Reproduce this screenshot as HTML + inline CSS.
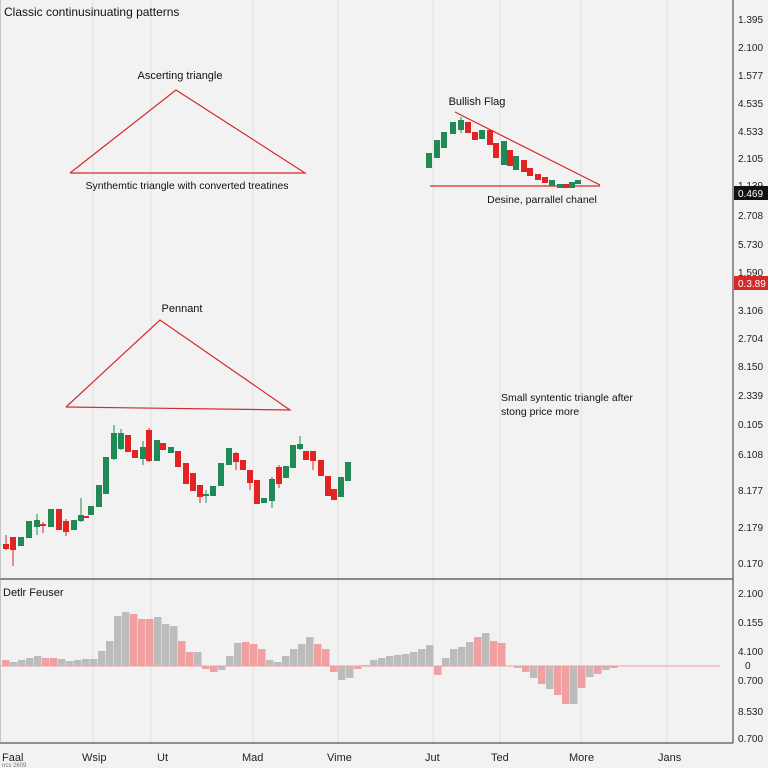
<!DOCTYPE html>
<html><head><meta charset="utf-8"><style>
body{margin:0;background:#f2f2f2;}
svg{display:block;font-family:"Liberation Sans",sans-serif;}
.r{fill:#f0a0a0}.g{fill:#bcbcbc}
.cr{fill:#e02424}.cg{fill:#1f8a55}
.wr{stroke:#e02424;stroke-width:1}.wg{stroke:#1f8a55;stroke-width:1}
</style></head><body>
<svg width="768" height="768" viewBox="0 0 768 768" xmlns="http://www.w3.org/2000/svg">
<rect width="768" height="768" fill="#f2f2f2"/>
<g stroke="#e0e0e0" stroke-width="1">
<line x1="93" y1="0" x2="93" y2="743"/><line x1="151" y1="0" x2="151" y2="743"/>
<line x1="253" y1="0" x2="253" y2="743"/><line x1="338" y1="0" x2="338" y2="743"/>
<line x1="433" y1="0" x2="433" y2="743"/><line x1="500" y1="0" x2="500" y2="743"/>
<line x1="581" y1="0" x2="581" y2="743"/><line x1="667" y1="0" x2="667" y2="743"/>
</g>
<line x1="0" y1="579" x2="733" y2="579" stroke="#666" stroke-width="1.5"/>
<line x1="0" y1="743" x2="733" y2="743" stroke="#555" stroke-width="1.2"/>
<line x1="733" y1="0" x2="733" y2="743" stroke="#555" stroke-width="1.2"/>
<line x1="0" y1="0" x2="0" y2="743" stroke="#999" stroke-width="1"/>
<text x="4" y="16" font-size="12" fill="#111">Classic continusinuating patterns</text>
<text x="3" y="596" font-size="11" fill="#111">Detlr Feuser</text>
<g fill="none" stroke="#d42a2a" stroke-width="1.2">
<polyline points="70,173 176,90 305,173 70,173"/>
<polyline points="66,407 160,320 290,410 66,407"/>
<line x1="455" y1="112" x2="600" y2="185"/>
<line x1="430" y1="186" x2="600" y2="186"/>
</g>
<g font-size="11" fill="#111">
<text x="180" y="79" text-anchor="middle">Ascerting triangle</text>
<text x="187" y="189" text-anchor="middle" font-size="10.5">Synthemtic triangle with converted treatines</text>
<text x="182" y="312" text-anchor="middle">Pennant</text>
<text x="477" y="105" text-anchor="middle">Bullish Flag</text>
<text x="542" y="203" text-anchor="middle" font-size="10.5">Desine, parrallel chanel</text>
<text x="501" y="401" font-size="10.5">Small syntentic triangle after</text>
<text x="501" y="415" font-size="10.5">stong price more</text>
</g>
<!-- wicks -->
<line class="wr" x1="6" x2="6" y1="535" y2="550"/>
<line class="wr" x1="13" x2="13" y1="537" y2="566"/>
<line class="wg" x1="37" x2="37" y1="514" y2="535"/>
<line class="wr" x1="43" x2="43" y1="522" y2="533"/>
<line class="wr" x1="66" x2="66" y1="519" y2="536"/>
<line class="wg" x1="81" x2="81" y1="498" y2="522"/>
<line class="wg" x1="114" x2="114" y1="425" y2="460"/>
<line class="wg" x1="121" x2="121" y1="429" y2="450"/>
<line class="wg" x1="143" x2="143" y1="441" y2="465"/>
<line class="wr" x1="149" x2="149" y1="428" y2="462"/>
<line class="wr" x1="200" x2="200" y1="485" y2="503"/>
<line class="wg" x1="206" x2="206" y1="490" y2="503"/>
<line class="wr" x1="236" x2="236" y1="452" y2="470"/>
<line class="wr" x1="250" x2="250" y1="470" y2="490"/>
<line class="wg" x1="272" x2="272" y1="477" y2="508"/>
<line class="wr" x1="279" x2="279" y1="465" y2="488"/>
<line class="wg" x1="300" x2="300" y1="436" y2="450"/>
<line class="wr" x1="313" x2="313" y1="451" y2="470"/>
<line class="wg" x1="461" x2="461" y1="117" y2="133"/>
<!-- bodies -->
<rect class="cr" x="3" y="544" width="6" height="5"/>
<rect class="cr" x="10" y="537" width="6" height="13"/>
<rect class="cg" x="18" y="537" width="6" height="9"/>
<rect class="cg" x="26" y="521" width="6" height="17"/>
<rect class="cg" x="34" y="520" width="6" height="7"/>
<rect class="cr" x="40" y="524" width="6" height="2"/>
<rect class="cg" x="48" y="509" width="6" height="18"/>
<rect class="cr" x="56" y="509" width="6" height="21"/>
<rect class="cr" x="63" y="521" width="6" height="11"/>
<rect class="cg" x="71" y="520" width="6" height="10"/>
<rect class="cg" x="78" y="515" width="6" height="6"/>
<rect class="cr" x="83" y="516" width="6" height="2"/>
<rect class="cg" x="88" y="506" width="6" height="9"/>
<rect class="cg" x="96" y="485" width="6" height="22"/>
<rect class="cg" x="103" y="457" width="6" height="37"/>
<rect class="cg" x="111" y="433" width="6" height="26"/>
<rect class="cg" x="118" y="433" width="6" height="16"/>
<rect class="cr" x="125" y="435" width="6" height="17"/>
<rect class="cr" x="132" y="450" width="6" height="8"/>
<rect class="cg" x="140" y="447" width="6" height="12"/>
<rect class="cr" x="146" y="430" width="6" height="31"/>
<rect class="cg" x="154" y="440" width="6" height="21"/>
<rect class="cr" x="160" y="443" width="6" height="7"/>
<rect class="cg" x="168" y="447" width="6" height="6"/>
<rect class="cr" x="175" y="451" width="6" height="16"/>
<rect class="cr" x="183" y="463" width="6" height="21"/>
<rect class="cr" x="190" y="473" width="6" height="18"/>
<rect class="cr" x="197" y="485" width="6" height="12"/>
<rect class="cg" x="203" y="494" width="6" height="2"/>
<rect class="cg" x="210" y="486" width="6" height="10"/>
<rect class="cg" x="218" y="463" width="6" height="23"/>
<rect class="cg" x="226" y="448" width="6" height="17"/>
<rect class="cr" x="233" y="453" width="6" height="9"/>
<rect class="cr" x="240" y="460" width="6" height="10"/>
<rect class="cr" x="247" y="470" width="6" height="13"/>
<rect class="cr" x="254" y="480" width="6" height="24"/>
<rect class="cg" x="261" y="498" width="6" height="5"/>
<rect class="cg" x="269" y="479" width="6" height="22"/>
<rect class="cr" x="276" y="467" width="6" height="17"/>
<rect class="cg" x="283" y="466" width="6" height="12"/>
<rect class="cg" x="290" y="445" width="6" height="23"/>
<rect class="cg" x="297" y="444" width="6" height="5"/>
<rect class="cr" x="303" y="451" width="6" height="9"/>
<rect class="cr" x="310" y="451" width="6" height="10"/>
<rect class="cr" x="318" y="460" width="6" height="16"/>
<rect class="cr" x="325" y="476" width="6" height="20"/>
<rect class="cr" x="331" y="489" width="6" height="11"/>
<rect class="cg" x="338" y="477" width="6" height="20"/>
<rect class="cg" x="345" y="462" width="6" height="19"/>
<rect class="cg" x="426" y="153" width="6" height="15"/>
<rect class="cg" x="434" y="140" width="6" height="18"/>
<rect class="cg" x="441" y="132" width="6" height="16"/>
<rect class="cg" x="450" y="122" width="6" height="12"/>
<rect class="cg" x="458" y="120" width="6" height="10"/>
<rect class="cr" x="465" y="122" width="6" height="11"/>
<rect class="cr" x="472" y="132" width="6" height="8"/>
<rect class="cg" x="479" y="130" width="6" height="9"/>
<rect class="cr" x="487" y="130" width="6" height="15"/>
<rect class="cr" x="493" y="143" width="6" height="15"/>
<rect class="cg" x="501" y="141" width="6" height="24"/>
<rect class="cr" x="507" y="150" width="6" height="16"/>
<rect class="cg" x="513" y="156" width="6" height="14"/>
<rect class="cr" x="521" y="160" width="6" height="12"/>
<rect class="cr" x="527" y="168" width="6" height="8"/>
<rect class="cr" x="535" y="174" width="6" height="6"/>
<rect class="cr" x="542" y="177" width="6" height="6"/>
<rect class="cg" x="549" y="180" width="6" height="6"/>
<rect class="cg" x="557" y="184" width="6" height="4"/>
<rect class="cr" x="563" y="184" width="6" height="4"/>
<rect class="cg" x="569" y="182" width="6" height="6"/>
<rect class="cg" x="575" y="180" width="6" height="4"/>
<!-- histogram -->
<rect class="r" x="2" y="660" width="7.5" height="6"/>
<rect class="g" x="10" y="662" width="7.5" height="4"/>
<rect class="g" x="18" y="660" width="7.5" height="6"/>
<rect class="g" x="26" y="658" width="7.5" height="8"/>
<rect class="g" x="34" y="656" width="7.5" height="10"/>
<rect class="r" x="42" y="658" width="7.5" height="8"/>
<rect class="r" x="50" y="658" width="7.5" height="8"/>
<rect class="g" x="58" y="659" width="7.5" height="7"/>
<rect class="g" x="66" y="661" width="7.5" height="5"/>
<rect class="g" x="74" y="660" width="7.5" height="6"/>
<rect class="g" x="82" y="659" width="7.5" height="7"/>
<rect class="g" x="90" y="659" width="7.5" height="7"/>
<rect class="g" x="98" y="651" width="7.5" height="15"/>
<rect class="g" x="106" y="641" width="7.5" height="25"/>
<rect class="g" x="114" y="616" width="7.5" height="50"/>
<rect class="g" x="122" y="612" width="7.5" height="54"/>
<rect class="r" x="130" y="614" width="7.5" height="52"/>
<rect class="r" x="138" y="619" width="7.5" height="47"/>
<rect class="r" x="146" y="619" width="7.5" height="47"/>
<rect class="g" x="154" y="617" width="7.5" height="49"/>
<rect class="g" x="162" y="624" width="7.5" height="42"/>
<rect class="g" x="170" y="626" width="7.5" height="40"/>
<rect class="r" x="178" y="641" width="7.5" height="25"/>
<rect class="r" x="186" y="652" width="7.5" height="14"/>
<rect class="g" x="194" y="652" width="7.5" height="14"/>
<rect class="r" x="202" y="666" width="7.5" height="3"/>
<rect class="r" x="210" y="666" width="7.5" height="6"/>
<rect class="g" x="218" y="666" width="7.5" height="4"/>
<rect class="g" x="226" y="656" width="7.5" height="10"/>
<rect class="g" x="234" y="643" width="7.5" height="23"/>
<rect class="r" x="242" y="642" width="7.5" height="24"/>
<rect class="r" x="250" y="644" width="7.5" height="22"/>
<rect class="r" x="258" y="649" width="7.5" height="17"/>
<rect class="g" x="266" y="660" width="7.5" height="6"/>
<rect class="g" x="274" y="662" width="7.5" height="4"/>
<rect class="g" x="282" y="656" width="7.5" height="10"/>
<rect class="g" x="290" y="649" width="7.5" height="17"/>
<rect class="g" x="298" y="644" width="7.5" height="22"/>
<rect class="g" x="306" y="637" width="7.5" height="29"/>
<rect class="r" x="314" y="644" width="7.5" height="22"/>
<rect class="r" x="322" y="649" width="7.5" height="17"/>
<rect class="r" x="330" y="666" width="7.5" height="6"/>
<rect class="g" x="338" y="666" width="7.5" height="14"/>
<rect class="g" x="346" y="666" width="7.5" height="12"/>
<rect class="r" x="354" y="666" width="7.5" height="3"/>
<rect class="g" x="362" y="665" width="7.5" height="1"/>
<rect class="g" x="370" y="660" width="7.5" height="6"/>
<rect class="g" x="378" y="658" width="7.5" height="8"/>
<rect class="g" x="386" y="656" width="7.5" height="10"/>
<rect class="g" x="394" y="655" width="7.5" height="11"/>
<rect class="g" x="402" y="654" width="7.5" height="12"/>
<rect class="g" x="410" y="652" width="7.5" height="14"/>
<rect class="g" x="418" y="649" width="7.5" height="17"/>
<rect class="g" x="426" y="645" width="7.5" height="21"/>
<rect class="r" x="434" y="666" width="7.5" height="9"/>
<rect class="g" x="442" y="658" width="7.5" height="8"/>
<rect class="g" x="450" y="649" width="7.5" height="17"/>
<rect class="g" x="458" y="647" width="7.5" height="19"/>
<rect class="g" x="466" y="642" width="7.5" height="24"/>
<rect class="r" x="474" y="637" width="7.5" height="29"/>
<rect class="g" x="482" y="633" width="7.5" height="33"/>
<rect class="r" x="490" y="641" width="7.5" height="25"/>
<rect class="r" x="498" y="643" width="7.5" height="23"/>
<rect class="g" x="514" y="666" width="7.5" height="2"/>
<rect class="r" x="522" y="666" width="7.5" height="6"/>
<rect class="g" x="530" y="666" width="7.5" height="12"/>
<rect class="r" x="538" y="666" width="7.5" height="18"/>
<rect class="g" x="546" y="666" width="7.5" height="23"/>
<rect class="r" x="554" y="666" width="7.5" height="29"/>
<rect class="r" x="562" y="666" width="7.5" height="38"/>
<rect class="g" x="570" y="666" width="7.5" height="38"/>
<rect class="r" x="578" y="666" width="7.5" height="22"/>
<rect class="g" x="586" y="666" width="7.5" height="11"/>
<rect class="r" x="594" y="666" width="7.5" height="8"/>
<rect class="g" x="602" y="666" width="7.5" height="4"/>
<rect class="r" x="610" y="666" width="7.5" height="2"/>
<line x1="0" y1="666" x2="720" y2="666" stroke="#f0a0a0" stroke-width="1"/>
<g font-size="10" fill="#222">
<text x="738" y="23">1.395</text><text x="738" y="51">2.100</text><text x="738" y="79">1.577</text>
<text x="738" y="107">4.535</text><text x="738" y="135">4.533</text><text x="738" y="162">2.105</text>
<text x="738" y="189">1.139</text>
<text x="738" y="219">2.708</text><text x="738" y="248">5.730</text><text x="738" y="276">1.590</text>
<text x="738" y="314">3.106</text><text x="738" y="342">2.704</text><text x="738" y="370">8.150</text>
<text x="738" y="399">2.339</text><text x="738" y="428">0.105</text><text x="738" y="458">6.108</text>
<text x="738" y="494">8.177</text><text x="738" y="531">2.179</text><text x="738" y="567">0.170</text>
<text x="738" y="597">2.100</text><text x="738" y="626">0.155</text><text x="738" y="655">4.100</text>
<text x="745" y="669">0</text><text x="738" y="684">0.700</text><text x="738" y="715">8.530</text>
<text x="738" y="742">0.700</text>
</g>
<rect x="734" y="186" width="34" height="14" fill="#111"/>
<text x="738" y="197" font-size="10" fill="#fff">0.469</text>
<rect x="734" y="276" width="34" height="14" fill="#d42a2a"/>
<text x="738" y="287" font-size="10" fill="#fff">0.3.89</text>
<g font-size="11" fill="#222">
<text x="2" y="761">Faal</text><text x="82" y="761">Wsip</text><text x="157" y="761">Ut</text>
<text x="242" y="761">Mad</text><text x="327" y="761">Vime</text><text x="425" y="761">Jut</text>
<text x="491" y="761">Ted</text><text x="569" y="761">More</text><text x="658" y="761">Jans</text>
</g>
<text x="2" y="767" font-size="6" fill="#777">ncs 2609</text>
</svg>
</body></html>
